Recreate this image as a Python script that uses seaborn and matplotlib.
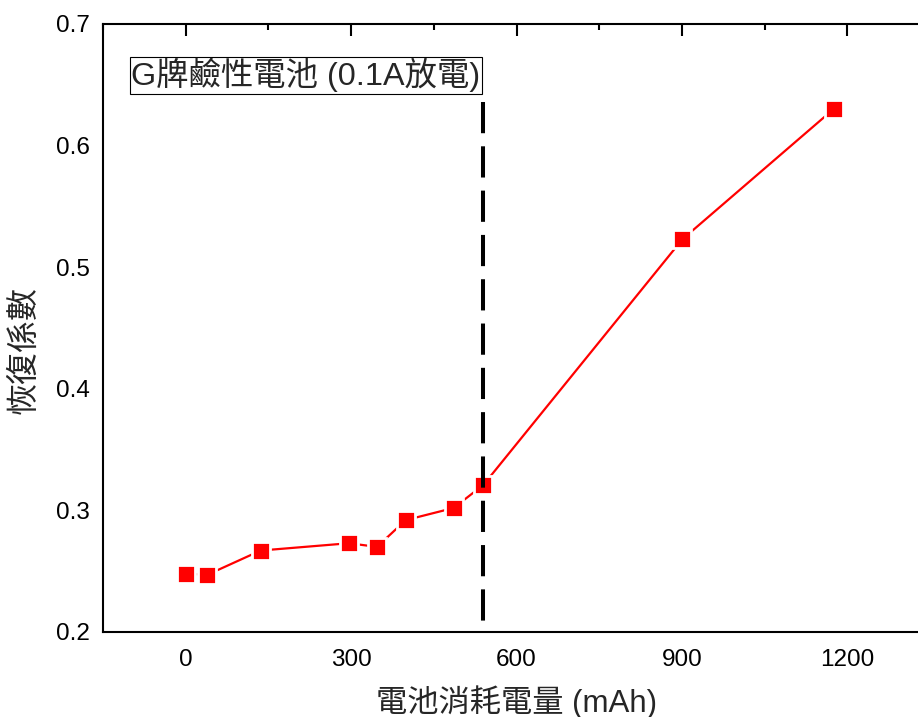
import numpy as np
import pandas as pd
import matplotlib
matplotlib.use('Agg')
import matplotlib.pyplot as plt
import seaborn as sns
from matplotlib.ticker import MultipleLocator

# data
capacity_mah = [0, 39, 136, 296, 347, 399, 486, 540, 901, 1175]
recovery = [0.248, 0.247, 0.267, 0.273, 0.270, 0.292, 0.302, 0.321, 0.523, 0.630]
cutoff_x = 540
cutoff_y = [0.636, 0.204]

title_text = 'G牌鹼性電池 (0.1A放電)'
xlabel_text = '電池消耗電量 (mAh)'
ylabel_text = '恢復係數'
xticks = [0, 300, 600, 900, 1200]
yticks = [0.2, 0.3, 0.4, 0.5, 0.6, 0.7]

sns.set_theme(style='white')
fonts = ['Liberation Sans', 'Noto Sans CJK TC', 'DejaVu Sans']
plt.rcParams['font.family'] = fonts

df = pd.DataFrame({'cap': capacity_mah, 'rc': recovery})

fig = plt.figure(figsize=(9.18, 7.17), dpi=100)
ax = fig.add_axes([103/918, 85/717, 827/918, 608/717])

sns.lineplot(data=df, x='cap', y='rc', ax=ax, color='#ff0000', linewidth=1.6,
             marker='s', markersize=13, markerfacecolor='#ff0000',
             markeredgecolor='white', markeredgewidth=2.0, sort=False,
             estimator=None, zorder=3)

ax.plot([cutoff_x, cutoff_x], cutoff_y, color='black', linewidth=2.9,
        dashes=(7.75, 3.25), zorder=4)

ax.set_xlim(-150, 1350)
ax.set_ylim(0.2, 0.7)
ax.set_xticks(xticks)
ax.set_yticks(yticks)
ax.xaxis.set_minor_locator(MultipleLocator(150))
ax.yaxis.set_minor_locator(MultipleLocator(0.05))
ax.tick_params(which='both', direction='in', top=True, right=True, width=1.5,
               colors='black', labelsize=17.5)
ax.tick_params(which='major', length=8.6)
ax.tick_params(which='minor', length=4.3)
ax.tick_params(axis='x', pad=12.5)
ax.tick_params(axis='y', pad=9.5)
for s in ax.spines.values():
    s.set_linewidth(1.5)
    s.set_color('black')

ax.set_xlabel(xlabel_text, fontsize=22.5, va='center')
ax.xaxis.set_label_coords(0.5, -0.115)
ax.set_ylabel(ylabel_text, fontsize=23, va='center')
ax.yaxis.set_label_coords(-0.0955, 0.464)

ax.text(0.034, 0.916, title_text, transform=ax.transAxes, fontsize=23.3,
        ha='left', va='center',
        bbox=dict(boxstyle='square,pad=0.04', facecolor='white',
                  edgecolor='black', linewidth=0.8))

fig.savefig('out.png', dpi=100)
